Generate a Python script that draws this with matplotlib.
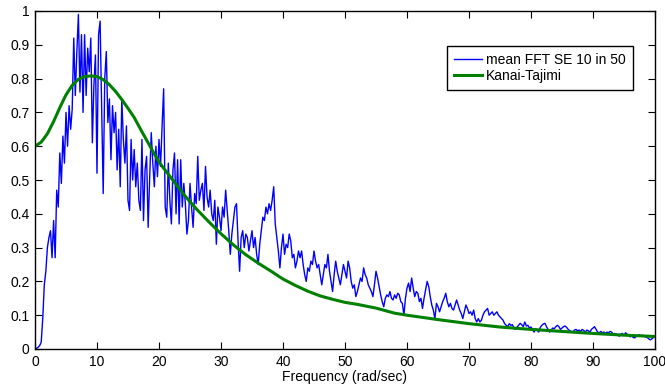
import numpy as np
import matplotlib
matplotlib.use("Agg")
import matplotlib.pyplot as plt

plt.rcParams["font.family"] = ["Liberation Sans", "DejaVu Sans"]
plt.rcParams["font.size"] = 10

# mean FFT amplitude of 10 records (SE) out of 50, sampled every 0.25 rad/s from 0 to 100
fft_mean = [
    0.000, 0.002, 0.005, 0.010, 0.020, 0.090, 0.190, 0.230, 0.300, 0.330, 0.350, 0.270, 0.380, 0.270, 0.470, 0.420, 0.580, 0.490, 0.630, 0.550,
    0.700, 0.600, 0.720, 0.650, 0.710, 0.920, 0.750, 0.880, 0.990, 0.760, 0.930, 0.700, 0.930, 0.750, 0.890, 0.820, 0.920, 0.610, 0.780, 0.870,
    0.520, 0.930, 0.970, 0.720, 0.460, 0.800, 0.880, 0.670, 0.740, 0.560, 0.720, 0.640, 0.700, 0.530, 0.650, 0.480, 0.740, 0.620, 0.550, 0.660,
    0.440, 0.410, 0.620, 0.500, 0.590, 0.480, 0.550, 0.440, 0.410, 0.620, 0.380, 0.530, 0.570, 0.360, 0.510, 0.640, 0.550, 0.480, 0.600, 0.510,
    0.620, 0.540, 0.660, 0.770, 0.420, 0.390, 0.550, 0.440, 0.370, 0.530, 0.580, 0.400, 0.560, 0.370, 0.560, 0.420, 0.490, 0.430, 0.340, 0.380,
    0.490, 0.420, 0.360, 0.460, 0.430, 0.570, 0.440, 0.470, 0.490, 0.410, 0.540, 0.450, 0.420, 0.470, 0.400, 0.380, 0.440, 0.310, 0.420, 0.390,
    0.350, 0.420, 0.390, 0.470, 0.410, 0.350, 0.280, 0.340, 0.380, 0.420, 0.430, 0.320, 0.230, 0.330, 0.350, 0.300, 0.340, 0.330, 0.290, 0.320,
    0.350, 0.300, 0.330, 0.280, 0.250, 0.310, 0.350, 0.390, 0.380, 0.420, 0.400, 0.430, 0.410, 0.440, 0.480, 0.370, 0.330, 0.290, 0.240, 0.300,
    0.340, 0.280, 0.310, 0.300, 0.340, 0.320, 0.270, 0.280, 0.240, 0.260, 0.290, 0.270, 0.290, 0.250, 0.220, 0.200, 0.240, 0.230, 0.260, 0.250,
    0.290, 0.260, 0.240, 0.250, 0.220, 0.190, 0.220, 0.250, 0.240, 0.280, 0.230, 0.200, 0.170, 0.220, 0.260, 0.230, 0.210, 0.190, 0.220, 0.250,
    0.230, 0.210, 0.260, 0.240, 0.200, 0.180, 0.190, 0.155, 0.170, 0.190, 0.210, 0.200, 0.240, 0.220, 0.210, 0.190, 0.180, 0.170, 0.155, 0.190,
    0.230, 0.210, 0.185, 0.160, 0.140, 0.125, 0.150, 0.160, 0.155, 0.170, 0.150, 0.145, 0.160, 0.150, 0.165, 0.160, 0.140, 0.135, 0.100, 0.150,
    0.180, 0.195, 0.170, 0.210, 0.180, 0.155, 0.170, 0.165, 0.140, 0.150, 0.120, 0.150, 0.175, 0.200, 0.185, 0.155, 0.130, 0.115, 0.090, 0.135,
    0.125, 0.110, 0.125, 0.140, 0.150, 0.165, 0.140, 0.125, 0.135, 0.120, 0.115, 0.130, 0.145, 0.130, 0.115, 0.105, 0.090, 0.110, 0.130, 0.120,
    0.105, 0.110, 0.100, 0.115, 0.090, 0.080, 0.090, 0.080, 0.085, 0.100, 0.110, 0.115, 0.120, 0.100, 0.105, 0.110, 0.100, 0.105, 0.110, 0.100,
    0.095, 0.090, 0.085, 0.075, 0.070, 0.066, 0.075, 0.070, 0.072, 0.062, 0.058, 0.065, 0.070, 0.076, 0.072, 0.066, 0.080, 0.068, 0.070, 0.062,
    0.065, 0.058, 0.050, 0.060, 0.056, 0.050, 0.064, 0.070, 0.074, 0.076, 0.066, 0.058, 0.050, 0.056, 0.062, 0.060, 0.066, 0.070, 0.066, 0.058,
    0.062, 0.066, 0.068, 0.064, 0.058, 0.054, 0.052, 0.050, 0.056, 0.058, 0.054, 0.056, 0.052, 0.058, 0.055, 0.050, 0.056, 0.054, 0.050, 0.058,
    0.062, 0.066, 0.058, 0.050, 0.048, 0.052, 0.048, 0.050, 0.046, 0.050, 0.048, 0.052, 0.050, 0.044, 0.046, 0.044, 0.041, 0.038, 0.044, 0.046,
    0.040, 0.048, 0.044, 0.040, 0.036, 0.038, 0.034, 0.033, 0.038, 0.040, 0.042, 0.038, 0.041, 0.038, 0.036, 0.034, 0.030, 0.027, 0.030, 0.034,
    0.035,
]
freq_fft = np.linspace(0, 100, len(fft_mean))

# fitted Kanai-Tajimi spectrum
freq_kt = [0, 1, 2, 3, 4, 5, 6, 7, 8, 9, 10, 11, 12, 13, 14, 15, 16, 17, 18, 19, 20,
           22, 24, 26, 28, 30, 32, 34, 36, 38, 40, 42, 44, 46, 48, 50, 52, 55, 58, 60,
           65, 70, 75, 80, 85, 90, 95, 100]
kanai_tajimi = [0.600, 0.612, 0.637, 0.673, 0.714, 0.752, 0.780, 0.798, 0.806, 0.808, 0.806,
                0.797, 0.782, 0.762, 0.738, 0.712, 0.685, 0.651, 0.618, 0.585, 0.553,
                0.505, 0.457, 0.415, 0.377, 0.341, 0.308, 0.279, 0.254, 0.231, 0.207,
                0.188, 0.171, 0.157, 0.147, 0.138, 0.132, 0.121, 0.106, 0.100,
                0.087, 0.075, 0.065, 0.058, 0.052, 0.046, 0.041, 0.037]

xticks = list(range(0, 101, 10))
yticks = [0, 0.1, 0.2, 0.3, 0.4, 0.5, 0.6, 0.7, 0.8, 0.9, 1]
ytick_labels = ["0", "0.1", "0.2", "0.3", "0.4", "0.5", "0.6", "0.7", "0.8", "0.9", "1"]

fig = plt.figure(figsize=(6.65, 3.89), dpi=100)
ax = fig.add_axes([35 / 665, 1 - 349 / 389, 620 / 665, 338 / 389])

ax.plot(freq_fft, fft_mean, color="#0000ff", lw=1.0, label="mean FFT SE 10 in 50")
ax.plot(freq_kt, kanai_tajimi, color="#008000", lw=2.2, label="Kanai-Tajimi")

ax.set_xlim(0, 100)
ax.set_ylim(0, 1)
ax.set_xticks(xticks)
ax.set_yticks(yticks)
ax.set_yticklabels(ytick_labels)
ax.tick_params(direction="in", top=True, right=True, length=5, width=0.8, pad=4)
for s in ax.spines.values():
    s.set_linewidth(1.0)
ax.set_xlabel("Frequency (rad/sec)", labelpad=1)

leg = ax.legend(loc="upper right", bbox_to_anchor=(598 / 620, 303 / 338), borderaxespad=0,
                fancybox=False, framealpha=1, edgecolor="black", handlelength=2.0,
                handletextpad=0.3, labelspacing=0.15, borderpad=0.5)
leg.get_frame().set_linewidth(1.0)

fig.savefig("out.png", dpi=100)
